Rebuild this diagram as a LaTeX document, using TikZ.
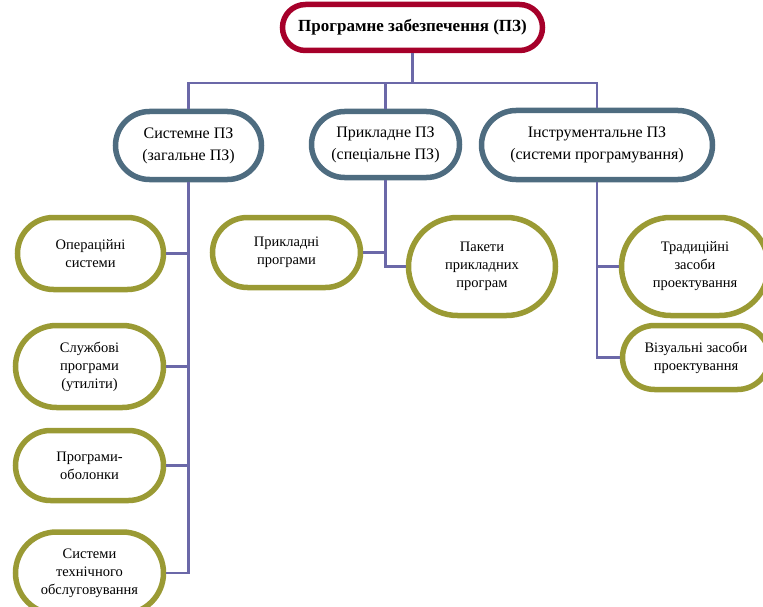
\documentclass[tikz,border=0pt]{standalone}
\usepackage{fontspec}
\setmainfont{Liberation Serif}
\usetikzlibrary{shapes.misc}
\definecolor{pzred}{RGB}{166,0,42}
\definecolor{pzblue}{RGB}{78,108,128}
\definecolor{pzolive}{RGB}{154,154,52}
\definecolor{pzline}{RGB}{107,104,168}
\tikzset{
  box/.style={rounded rectangle,draw,line width=5.5pt,fill=white,align=center,inner sep=0pt},
  boxsize/.style 2 args={minimum width=#1pt,minimum height=#2pt},
  topbox/.style={box,draw=pzred,font=\fontsize{17}{20}\selectfont\bfseries},
  midbox/.style={box,draw=pzblue,font=\fontsize{16}{22}\selectfont},
  leafbox/.style={box,draw=pzolive,font=\fontsize{14.5}{18}\selectfont},
  conn/.style={draw=pzline,line width=2.2pt}
}

\begin{document}
\begin{tikzpicture}[x=1pt,y=-1pt]
\useasboundingbox (0,0) rectangle (763,607);
\clip (0,0) rectangle (763,607);

\node[topbox,boxsize={260}{46}] (pz) at (412.5,27.5) {Програмне забезпечення (ПЗ)};
\coordinate (bus) at (0,83);

\node[midbox,boxsize={146}{68}] (sys) at (188.5,145.5) {Системне ПЗ\\(загальне ПЗ)};
\node[midbox,boxsize={148}{66}] (app) at (385.5,144.5) {Прикладне ПЗ\\(спеціальне ПЗ)};
\node[midbox,boxsize={231}{69}] (tool) at (597,145) {Інструментальне ПЗ\\(системи програмування)};

\node[leafbox,boxsize={146}{72}] (os) at (90.5,253.5) {Операційні\\системи};
\node[leafbox,boxsize={148}{82}] (util) at (89.5,366.5) {Службові\\програми\\(утиліти)};
\node[leafbox,boxsize={148}{70}] (shell) at (89.5,465.5) {Програми-\\оболонки};
\node[leafbox,boxsize={148}{82}] (maint) at (89.5,573) {Системи\\технічного\\обслуговування};

\node[leafbox,boxsize={148}{70}] (apps) at (286.5,252.5) {Прикладні\\програми};
\node[leafbox,boxsize={147}{98}] (pkg) at (482,266.5) {Пакети\\прикладних\\програм};

\node[leafbox,boxsize={147}{98}] (trad) at (695,266.5) {Традиційні\\засоби\\проектування};
\node[leafbox,boxsize={147}{64}] (vis) at (696,357.5) {Візуальні засоби\\проектування};

\draw[conn] (pz.south) -- (pz.south |- bus) -| (sys.north);
\draw[conn] (pz.south |- bus) -| (app.north);
\draw[conn] (pz.south |- bus) -| (tool.north);

\foreach \leaf in {os,util,shell,maint}
  \draw[conn] (sys.south) |- (\leaf.east);

\draw[conn] (app.south) |- (apps.east);
\draw[conn] (app.south) |- (pkg.west);

\draw[conn] (tool.south) |- (trad.west);
\draw[conn] (tool.south) |- (vis.west);
\end{tikzpicture}
\end{document}
